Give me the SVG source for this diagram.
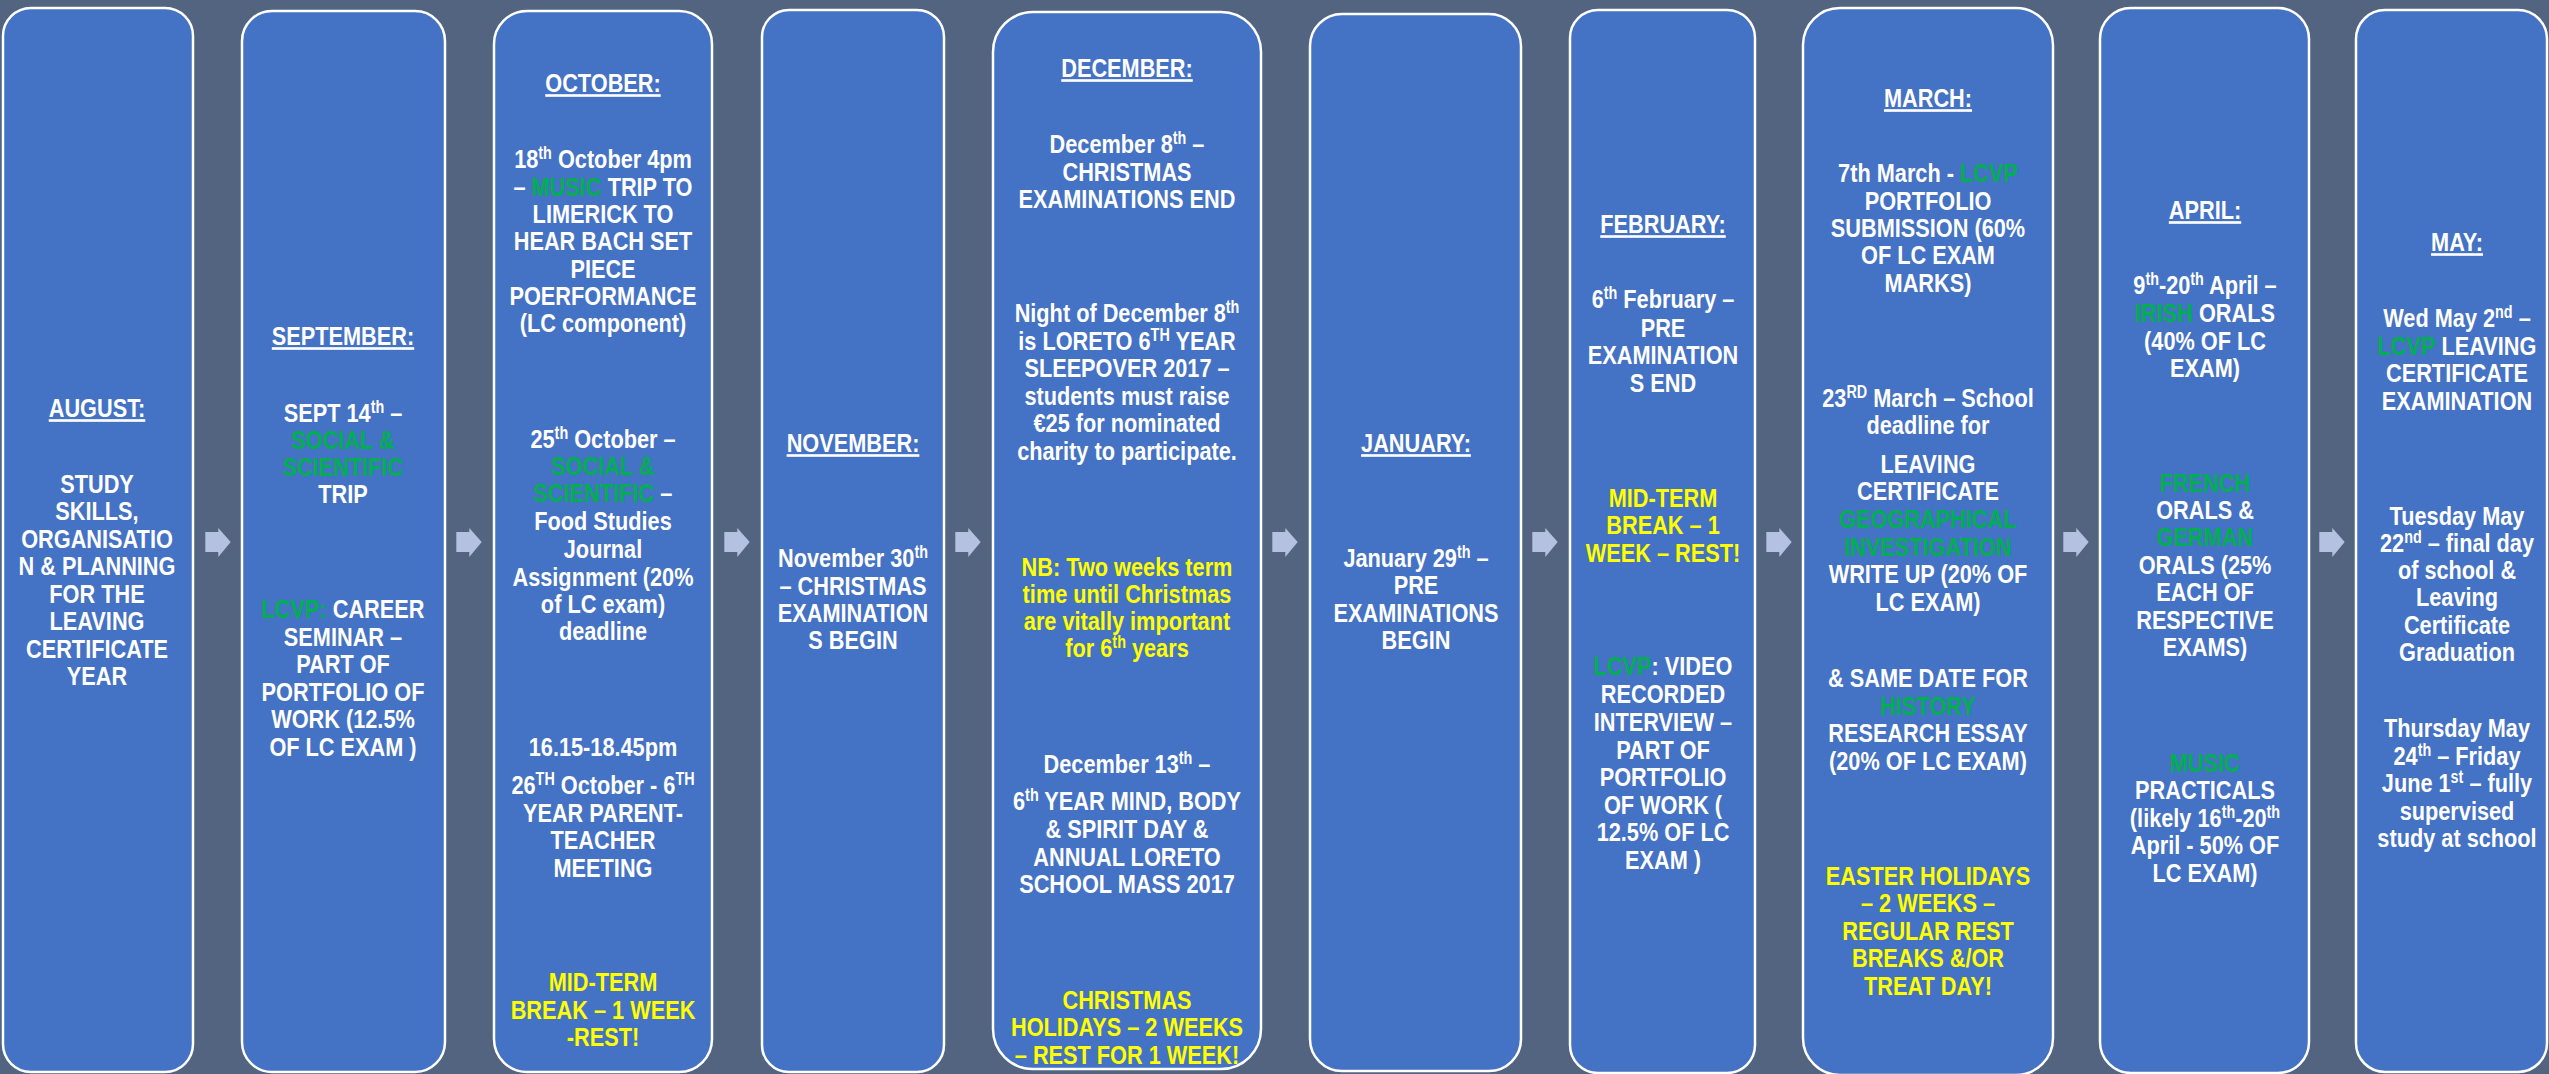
<svg xmlns="http://www.w3.org/2000/svg" xmlns:xlink="http://www.w3.org/1999/xlink" width="2549" height="1074" viewBox="0 0 2549 1074">
<style>
.bg{fill:#526480}
.box{fill:#4472C4;stroke:#FFFFFF;stroke-width:2.5}
.arr{fill:#B4C1E0}
text{font-family:"Liberation Sans","Arial",sans-serif;font-weight:bold;font-size:26.5px;fill:#FFFFFF;text-anchor:middle}
.h{text-decoration:underline}
.g{fill:#00B050}
.y{fill:#FFFF00}
.s{font-size:17.5px;baseline-shift:super}
</style>
<defs>
<path id="arrow" class="arr" d="M-12.7,-10 H0.3 V-14 L12.7,0 L0.3,15 V10 H-12.7 Z"/>
</defs>
<rect class="bg" x="0" y="0" width="2549" height="1074"/>

<g id="connectors">
<use xlink:href="#arrow" x="218" y="542"/>
<use xlink:href="#arrow" x="469" y="542"/>
<use xlink:href="#arrow" x="737" y="542"/>
<use xlink:href="#arrow" x="968" y="542"/>
<use xlink:href="#arrow" x="1285" y="542"/>
<use xlink:href="#arrow" x="1545" y="542"/>
<use xlink:href="#arrow" x="1779" y="542"/>
<use xlink:href="#arrow" x="2076" y="542"/>
<use xlink:href="#arrow" x="2332" y="542"/>
</g>

<g id="august">
<rect class="box" x="3" y="8" width="190" height="1064" rx="28"/>
<g transform="translate(97 0) scale(0.82 1)">
<text y="417" class="h">AUGUST:</text>
<text y="493">STUDY</text>
<text y="520">SKILLS,</text>
<text y="548">ORGANISATIO</text>
<text y="575">N &amp; PLANNING</text>
<text y="603">FOR THE</text>
<text y="630">LEAVING</text>
<text y="658">CERTIFICATE</text>
<text y="685">YEAR</text>
</g>
</g>

<g id="september">
<rect class="box" x="242" y="11" width="203" height="1061" rx="30"/>
<g transform="translate(343 0) scale(0.82 1)">
<text y="345" class="h">SEPTEMBER:</text>
<text y="422">SEPT 14<tspan class="s">th</tspan> –</text>
<text y="449" class="g">SOCIAL &amp;</text>
<text y="476" class="g">SCIENTIFIC</text>
<text y="503">TRIP</text>
<text y="618"><tspan class="g">LCVP:</tspan> CAREER</text>
<text y="646">SEMINAR –</text>
<text y="673">PART OF</text>
<text y="701">PORTFOLIO OF</text>
<text y="728">WORK (12.5%</text>
<text y="756">OF LC EXAM )</text>
</g>
</g>

<g id="october">
<rect class="box" x="494" y="11" width="218" height="1061" rx="33"/>
<g transform="translate(603 0) scale(0.82 1)">
<text y="92" class="h">OCTOBER:</text>
<text y="168">18<tspan class="s">th</tspan> October 4pm</text>
<text y="196">– <tspan class="g">MUSIC</tspan> TRIP TO</text>
<text y="223">LIMERICK TO</text>
<text y="250">HEAR BACH SET</text>
<text y="278">PIECE</text>
<text y="305">POERFORMANCE</text>
<text y="332">(LC component)</text>
<text y="448">25<tspan class="s">th</tspan> October –</text>
<text y="475" class="g">SOCIAL &amp;</text>
<text y="502"><tspan class="g">SCIENTIFIC</tspan> –</text>
<text y="530">Food Studies</text>
<text y="558">Journal</text>
<text y="586">Assignment (20%</text>
<text y="613">of LC exam)</text>
<text y="640">deadline</text>
<text y="756">16.15-18.45pm</text>
<text y="794">26<tspan class="s">TH</tspan> October - 6<tspan class="s">TH</tspan></text>
<text y="822">YEAR PARENT-</text>
<text y="849">TEACHER</text>
<text y="877">MEETING</text>
<text y="991" class="y">MID-TERM</text>
<text y="1019" class="y">BREAK – 1 WEEK</text>
<text y="1046" class="y">-REST!</text>
</g>
</g>

<g id="november">
<rect class="box" x="762" y="10" width="182" height="1062" rx="27"/>
<g transform="translate(853 0) scale(0.82 1)">
<text y="452" class="h">NOVEMBER:</text>
<text y="567">November 30<tspan class="s">th</tspan></text>
<text y="595">– CHRISTMAS</text>
<text y="622">EXAMINATION</text>
<text y="649">S BEGIN</text>
</g>
</g>

<g id="december">
<rect class="box" x="993" y="12" width="268" height="1057" rx="40"/>
<g transform="translate(1127 0) scale(0.82 1)">
<text y="77" class="h">DECEMBER:</text>
<text y="153">December 8<tspan class="s">th</tspan> –</text>
<text y="181">CHRISTMAS</text>
<text y="208">EXAMINATIONS END</text>
<text y="322">Night of December 8<tspan class="s">th</tspan></text>
<text y="350">is LORETO 6<tspan class="s">TH</tspan> YEAR</text>
<text y="377">SLEEPOVER 2017 –</text>
<text y="405">students must raise</text>
<text y="432">€25 for nominated</text>
<text y="460">charity to participate.</text>
<text y="576" class="y">NB: Two weeks term</text>
<text y="603" class="y">time until Christmas</text>
<text y="630" class="y">are vitally important</text>
<text y="657" class="y">for 6<tspan class="s">th</tspan> years</text>
<text y="773">December 13<tspan class="s">th</tspan> –</text>
<text y="810">6<tspan class="s">th</tspan> YEAR MIND, BODY</text>
<text y="838">&amp; SPIRIT DAY &amp;</text>
<text y="866">ANNUAL LORETO</text>
<text y="893">SCHOOL MASS 2017</text>
<text y="1009" class="y">CHRISTMAS</text>
<text y="1036" class="y">HOLIDAYS – 2 WEEKS</text>
<text y="1064" class="y">– REST FOR 1 WEEK!</text>
</g>
</g>

<g id="january">
<rect class="box" x="1310" y="14" width="211" height="1057" rx="32"/>
<g transform="translate(1416 0) scale(0.82 1)">
<text y="452" class="h">JANUARY:</text>
<text y="567">January 29<tspan class="s">th</tspan> –</text>
<text y="594">PRE</text>
<text y="622">EXAMINATIONS</text>
<text y="649">BEGIN</text>
</g>
</g>

<g id="february">
<rect class="box" x="1570" y="10" width="185" height="1063" rx="28"/>
<g transform="translate(1663 0) scale(0.82 1)">
<text y="233" class="h">FEBRUARY:</text>
<text y="308">6<tspan class="s">th</tspan> February –</text>
<text y="337">PRE</text>
<text y="364">EXAMINATION</text>
<text y="392">S END</text>
<text y="507" class="y">MID-TERM</text>
<text y="534" class="y">BREAK – 1</text>
<text y="562" class="y">WEEK – REST!</text>
<text y="675"><tspan class="g">LCVP</tspan>: VIDEO</text>
<text y="703">RECORDED</text>
<text y="731">INTERVIEW –</text>
<text y="759">PART OF</text>
<text y="786">PORTFOLIO</text>
<text y="814">OF WORK (</text>
<text y="841">12.5% OF LC</text>
<text y="869">EXAM )</text>
</g>
</g>

<g id="march">
<rect class="box" x="1803" y="8" width="250" height="1067" rx="37"/>
<g transform="translate(1928 0) scale(0.82 1)">
<text y="107" class="h">MARCH:</text>
<text y="182">7th March - <tspan class="g">LCVP</tspan></text>
<text y="210">PORTFOLIO</text>
<text y="237">SUBMISSION (60%</text>
<text y="264">OF LC EXAM</text>
<text y="292">MARKS)</text>
<text y="407">23<tspan class="s">RD</tspan> March – School</text>
<text y="434">deadline for</text>
<text y="473">LEAVING</text>
<text y="500">CERTIFICATE</text>
<text y="528" class="g">GEOGRAPHICAL</text>
<text y="556" class="g">INVESTIGATION</text>
<text y="583">WRITE UP (20% OF</text>
<text y="611">LC EXAM)</text>
<text y="687">&amp; SAME DATE FOR</text>
<text y="715" class="g">HISTORY</text>
<text y="742">RESEARCH ESSAY</text>
<text y="770">(20% OF LC EXAM)</text>
<text y="885" class="y">EASTER HOLIDAYS</text>
<text y="912" class="y">– 2 WEEKS –</text>
<text y="940" class="y">REGULAR REST</text>
<text y="967" class="y">BREAKS &amp;/OR</text>
<text y="995" class="y">TREAT DAY!</text>
</g>
</g>

<g id="april">
<rect class="box" x="2100" y="8" width="209" height="1065" rx="31"/>
<g transform="translate(2205 0) scale(0.82 1)">
<text y="219" class="h">APRIL:</text>
<text y="294">9<tspan class="s">th</tspan>-20<tspan class="s">th</tspan> April –</text>
<text y="322"><tspan class="g">IRISH</tspan> ORALS</text>
<text y="350">(40% OF LC</text>
<text y="377">EXAM)</text>
<text y="492" class="g">FRENCH</text>
<text y="519">ORALS &amp;</text>
<text y="546" class="g">GERMAN</text>
<text y="574">ORALS (25%</text>
<text y="601">EACH OF</text>
<text y="629">RESPECTIVE</text>
<text y="656">EXAMS)</text>
<text y="772" class="g">MUSIC</text>
<text y="799">PRACTICALS</text>
<text y="827">(likely 16<tspan class="s">th</tspan>-20<tspan class="s">th</tspan></text>
<text y="854">April - 50% OF</text>
<text y="882">LC EXAM)</text>
</g>
</g>

<g id="may">
<rect class="box" x="2356" y="10" width="191" height="1062" rx="29"/>
<g transform="translate(2457 0) scale(0.82 1)">
<text y="251" class="h">MAY:</text>
<text y="327">Wed May 2<tspan class="s">nd</tspan> –</text>
<text y="355"><tspan class="g">LCVP</tspan> LEAVING</text>
<text y="382">CERTIFICATE</text>
<text y="410">EXAMINATION</text>
<text y="525">Tuesday May</text>
<text y="552">22<tspan class="s">nd</tspan> – final day</text>
<text y="579">of school &amp;</text>
<text y="606">Leaving</text>
<text y="634">Certificate</text>
<text y="661">Graduation</text>
<text y="737">Thursday May</text>
<text y="765">24<tspan class="s">th</tspan> – Friday</text>
<text y="792">June 1<tspan class="s">st</tspan> – fully</text>
<text y="820">supervised</text>
<text y="847">study at school</text>
</g>
</g>
</svg>
